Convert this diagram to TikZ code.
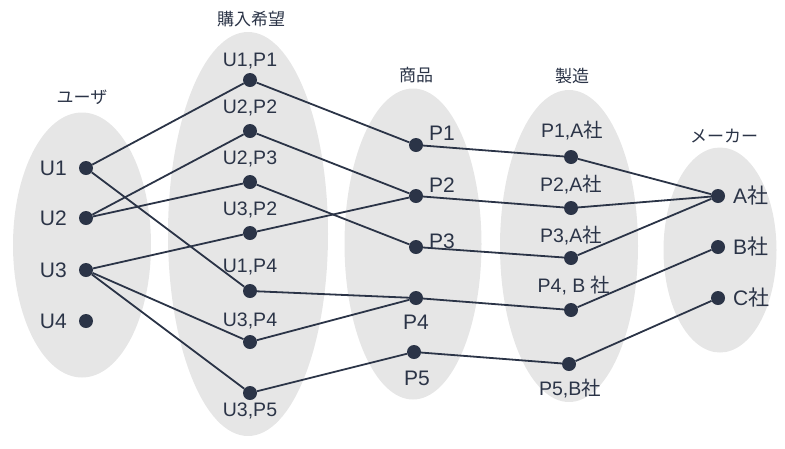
\documentclass[tikz,border=0pt]{standalone}
\usepackage{fontspec}
\setmainfont{Liberation Sans}
\newfontfamily\jp{Noto Sans CJK JP}
\usetikzlibrary{shapes.geometric}
\definecolor{ink}{RGB}{43,52,71}
\definecolor{shade}{RGB}{230,230,230}
\newcommand{\sha}{{\jp 社}}

\begin{document}
\begin{tikzpicture}[x=1pt,y=-1pt]
    \def\xu{86}
    \def\xw{250}
    \def\xp{416}
    \def\xm{571}
    \def\xc{718}

    \tikzstyle{group}=[ellipse,fill=shade,inner sep=0pt]
    \tikzstyle{title}=[text=ink,font=\jp\fontsize{17}{20}\selectfont,inner sep=0pt]
    \tikzstyle{word}=[text=ink,font=\fontsize{19.5}{22}\selectfont,inner sep=0pt]
    \tikzstyle{bigword}=[text=ink,font=\fontsize{21}{24}\selectfont,inner sep=0pt]
    \tikzstyle{dot}=[circle,fill=ink,inner sep=0pt,minimum size=14pt]
    \tikzstyle{link}=[draw=ink,line width=1.8pt]

    \useasboundingbox (0,0) rectangle (785,448);

    \node[group,minimum width=138pt,minimum height=265pt] (ug) at (82,245) {};
    \node[group,minimum width=160pt,minimum height=404pt] (wg) at (248,234) {};
    \node[group,minimum width=137pt,minimum height=311pt] (pg) at (413,244) {};
    \node[group,minimum width=138pt,minimum height=312pt] (mg) at (569,246) {};
    \node[group,minimum width=113pt,minimum height=205pt] (cg) at (720,250) {};

    \node[title] (ut) at (82,97) {ユーザ};
    \node[title] (wt) at (251,19) {購入希望};
    \node[title] (pt) at (416,75) {商品};
    \node[title] (mt) at (572,76) {製造};
    \node[title] (ct) at (724,136) {メーカー};

    % users
    \node[dot] (u1) at (\xu,168) {};
    \node[dot] (u2) at (\xu,218) {};
    \node[dot] (u3) at (\xu,270) {};
    \node[dot] (u4) at (\xu,321) {};
    \node[bigword,anchor=east] (u1l) at (\xu-19,168) {U1};
    \node[bigword,anchor=east] (u2l) at (\xu-19,218) {U2};
    \node[bigword,anchor=east] (u3l) at (\xu-19,270) {U3};
    \node[bigword,anchor=east] (u4l) at (\xu-19,321) {U4};

    % wishes
    \node[dot] (u1p1) at (\xw,80) {};
    \node[dot] (u2p2) at (\xw,131) {};
    \node[dot] (u2p3) at (\xw,182) {};
    \node[dot] (u3p2) at (\xw,233) {};
    \node[dot] (u1p4) at (\xw,291) {};
    \node[dot] (u3p4) at (\xw,342) {};
    \node[dot] (u3p5) at (\xw,393) {};
    \node[word] (u1p1l) at (\xw,61) {U1,P1};
    \node[word] (u2p2l) at (\xw,108) {U2,P2};
    \node[word] (u2p3l) at (\xw,159) {U2,P3};
    \node[word] (u3p2l) at (\xw,210) {U3,P2};
    \node[word] (u1p4l) at (\xw,267) {U1,P4};
    \node[word] (u3p4l) at (\xw,321) {U3,P4};
    \node[word] (u3p5l) at (\xw,411) {U3,P5};

    % products
    \node[dot] (p1) at (\xp,145) {};
    \node[dot] (p2) at (\xp,196) {};
    \node[dot] (p3) at (\xp,247) {};
    \node[dot] (p4) at (\xp,298) {};
    \node[dot] (p5) at (\xp-2,352) {};
    \node[bigword] (p1l) at (\xp+26,133) {P1};
    \node[bigword] (p2l) at (\xp+26,185) {P2};
    \node[bigword] (p3l) at (\xp+26,241) {P3};
    \node[bigword] (p4l) at (\xp,322) {P4};
    \node[bigword] (p5l) at (\xp+1,378) {P5};

    % makes
    \node[dot] (p1a) at (\xm,157) {};
    \node[dot] (p2a) at (\xm,208) {};
    \node[dot] (p3a) at (\xm,258) {};
    \node[dot] (p4b) at (\xm,310) {};
    \node[dot] (p5b) at (\xm-2,364) {};
    \node[word] (p1al) at (\xm+1,131) {P1,A\sha};
    \node[word] (p2al) at (\xm,185) {P2,A\sha};
    \node[word] (p3al) at (\xm,236) {P3,A\sha};
    \node[word] (p4bl) at (\xm+3,286) {P4, B \sha};
    \node[word] (p5bl) at (\xm-1,389) {P5,B\sha};

    % makers
    \node[dot] (ca) at (\xc,196) {};
    \node[dot] (cb) at (\xc,247) {};
    \node[dot] (cc) at (\xc,298) {};
    \node[bigword,anchor=west] (cal) at (\xc+15,196) {A\sha};
    \node[bigword,anchor=west] (cbl) at (\xc+15,247) {B\sha};
    \node[bigword,anchor=west] (ccl) at (\xc+15,298) {C\sha};

    \draw [link] (u1) -- (u1p1);
    \draw [link] (u1) -- (u1p4);
    \draw [link] (u2) -- (u2p2);
    \draw [link] (u2) -- (u2p3);
    \draw [link] (u3) -- (u3p2);
    \draw [link] (u3) -- (u3p4);
    \draw [link] (u3) -- (u3p5);

    \draw [link] (u1p1) -- (p1);
    \draw [link] (u2p2) -- (p2);
    \draw [link] (u3p2) -- (p2);
    \draw [link] (u2p3) -- (p3);
    \draw [link] (u1p4) -- (p4);
    \draw [link] (u3p4) -- (p4);
    \draw [link] (u3p5) -- (p5);

    \draw [link] (p1) -- (p1a);
    \draw [link] (p2) -- (p2a);
    \draw [link] (p3) -- (p3a);
    \draw [link] (p4) -- (p4b);
    \draw [link] (p5) -- (p5b);

    \draw [link] (p1a) -- (ca);
    \draw [link] (p2a) -- (ca);
    \draw [link] (p3a) -- (ca);
    \draw [link] (p4b) -- (cb);
    \draw [link] (p5b) -- (cc);

\end{tikzpicture}
\end{document}
